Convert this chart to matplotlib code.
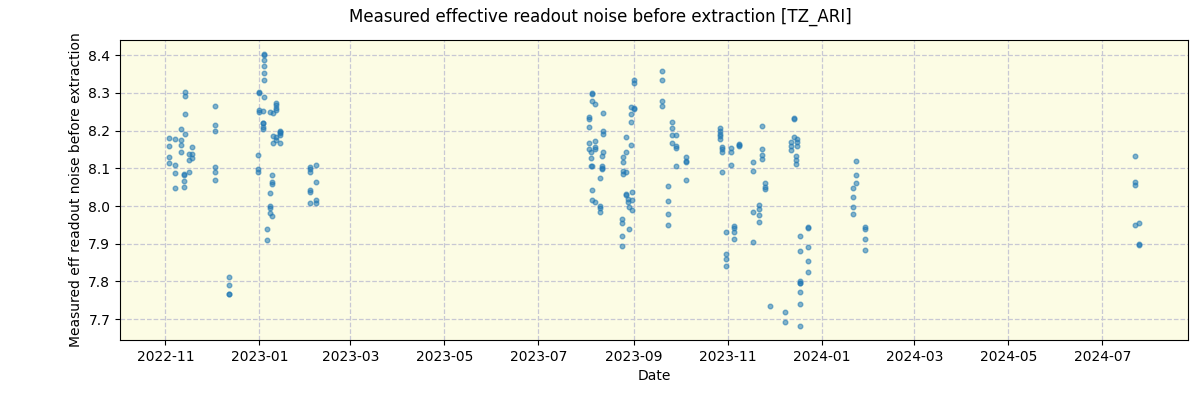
import matplotlib
matplotlib.use("Agg")
import matplotlib.pyplot as plt
import matplotlib.dates as mdates
import pandas as pd

# (date, values) groups
dates = [
    "2022-11-03", "2022-11-03", "2022-11-03", "2022-11-03",
    "2022-11-07", "2022-11-07", "2022-11-07", "2022-11-07",
    "2022-11-11", "2022-11-11", "2022-11-11", "2022-11-11",
    "2022-11-13", "2022-11-13", "2022-11-13", "2022-11-13",
    "2022-11-14", "2022-11-14", "2022-11-14", "2022-11-14",
    "2022-11-16", "2022-11-16", "2022-11-16",
    "2022-11-18", "2022-11-18", "2022-11-18",
    "2022-12-03", "2022-12-03", "2022-12-03", "2022-12-03", "2022-12-03", "2022-12-03",
    "2022-12-12", "2022-12-12", "2022-12-12", "2022-12-12",
    "2022-12-31", "2022-12-31", "2022-12-31",
    "2023-01-01", "2023-01-01", "2023-01-01", "2023-01-01",
    "2023-01-03", "2023-01-03", "2023-01-03", "2023-01-03", "2023-01-03",
    "2023-01-04", "2023-01-04", "2023-01-04", "2023-01-04", "2023-01-04", "2023-01-04", "2023-01-04",
    "2023-01-06", "2023-01-06",
    "2023-01-08", "2023-01-08", "2023-01-08", "2023-01-08", "2023-01-08",
    "2023-01-09", "2023-01-09", "2023-01-09", "2023-01-09",
    "2023-01-10", "2023-01-10", "2023-01-10",
    "2023-01-12", "2023-01-12", "2023-01-12", "2023-01-12", "2023-01-12", "2023-01-12",
    "2023-01-14", "2023-01-14", "2023-01-14", "2023-01-14", "2023-01-14",
    "2023-02-03", "2023-02-03", "2023-02-03", "2023-02-03", "2023-02-03", "2023-02-03",
    "2023-02-07", "2023-02-07", "2023-02-07", "2023-02-07",
    "2023-08-03", "2023-08-03", "2023-08-03", "2023-08-03", "2023-08-03",
    "2023-08-04", "2023-08-04", "2023-08-04",
    "2023-08-05", "2023-08-05", "2023-08-05", "2023-08-05", "2023-08-05", "2023-08-05",
    "2023-08-07", "2023-08-07", "2023-08-07", "2023-08-07", "2023-08-07",
    "2023-08-10", "2023-08-10", "2023-08-10", "2023-08-10",
    "2023-08-11", "2023-08-11", "2023-08-11", "2023-08-11",
    "2023-08-12", "2023-08-12", "2023-08-12", "2023-08-12",
    "2023-08-24", "2023-08-24", "2023-08-24", "2023-08-24",
    "2023-08-25", "2023-08-25", "2023-08-25", "2023-08-25",
    "2023-08-27", "2023-08-27", "2023-08-27", "2023-08-27", "2023-08-27",
    "2023-08-28", "2023-08-28",
    "2023-08-29", "2023-08-29",
    "2023-08-30", "2023-08-30", "2023-08-30", "2023-08-30",
    "2023-08-31", "2023-08-31", "2023-08-31",
    "2023-09-01", "2023-09-01", "2023-09-01", "2023-09-01",
    "2023-09-19", "2023-09-19", "2023-09-19", "2023-09-19",
    "2023-09-23", "2023-09-23", "2023-09-23", "2023-09-23",
    "2023-09-26", "2023-09-26", "2023-09-26", "2023-09-26",
    "2023-09-28", "2023-09-28", "2023-09-28", "2023-09-28",
    "2023-10-05", "2023-10-05", "2023-10-05", "2023-10-05",
    "2023-10-27", "2023-10-27", "2023-10-27", "2023-10-27", "2023-10-27",
    "2023-10-28", "2023-10-28", "2023-10-28", "2023-10-28",
    "2023-10-31", "2023-10-31", "2023-10-31", "2023-10-31",
    "2023-11-03", "2023-11-03", "2023-11-03",
    "2023-11-05", "2023-11-05", "2023-11-05", "2023-11-05",
    "2023-11-08", "2023-11-08", "2023-11-08",
    "2023-11-17", "2023-11-17", "2023-11-17", "2023-11-17",
    "2023-11-21", "2023-11-21", "2023-11-21", "2023-11-21",
    "2023-11-23", "2023-11-23", "2023-11-23", "2023-11-23",
    "2023-11-25", "2023-11-25", "2023-11-25",
    "2023-11-28",
    "2023-12-08", "2023-12-08",
    "2023-12-12", "2023-12-12", "2023-12-12",
    "2023-12-14", "2023-12-14", "2023-12-14",
    "2023-12-15", "2023-12-15", "2023-12-15",
    "2023-12-16", "2023-12-16", "2023-12-16",
    "2023-12-18", "2023-12-18", "2023-12-18", "2023-12-18", "2023-12-18", "2023-12-18", "2023-12-18", "2023-12-18",
    "2023-12-23", "2023-12-23", "2023-12-23", "2023-12-23", "2023-12-23",
    "2024-01-21", "2024-01-21", "2024-01-21", "2024-01-21",
    "2024-01-23", "2024-01-23", "2024-01-23",
    "2024-01-29", "2024-01-29", "2024-01-29", "2024-01-29",
    "2024-07-22", "2024-07-22", "2024-07-22", "2024-07-22",
    "2024-07-25", "2024-07-25", "2024-07-25",
]

noise = [
    8.181, 8.160, 8.131, 8.114,
    8.178, 8.109, 8.088, 8.048,
    8.176, 8.162, 8.144, 8.203,
    8.085, 8.081, 8.066, 8.050,
    8.303, 8.293, 8.245, 8.192,
    8.138, 8.121, 8.090,
    8.157, 8.137, 8.128,
    8.266, 8.216, 8.200, 8.104, 8.090, 8.069,
    7.811, 7.790, 7.768, 7.768,
    8.136, 8.097, 8.089,
    8.302, 8.299, 8.254, 8.250,
    8.253, 8.221, 8.221, 8.210, 8.205,
    8.404, 8.401, 8.386, 8.370, 8.352, 8.333, 8.290,
    7.938, 7.911,
    8.035, 8.001, 7.994, 7.981, 8.250,
    8.082, 8.063, 8.059, 7.973,
    8.185, 8.168, 8.247,
    8.274, 8.267, 8.260, 8.254, 8.184, 8.176,
    8.200, 8.194, 8.187, 8.168, 8.196,
    8.104, 8.097, 8.091, 8.043, 8.037, 8.008,
    8.109, 8.064, 8.017, 8.008,
    8.237, 8.231, 8.210, 8.168, 8.152,
    8.143, 8.128, 8.106,
    8.300, 8.297, 8.278, 8.106, 8.043, 8.016,
    8.011, 8.271, 8.173, 8.157, 8.152,
    8.001, 7.995, 7.985, 8.074,
    8.133, 8.107, 8.100, 8.099,
    8.247, 8.198, 8.191, 8.144,
    7.965, 7.955, 7.920, 7.893,
    8.131, 8.118, 8.094, 8.084,
    8.184, 8.144, 8.089, 8.028, 8.031,
    8.019, 8.011,
    7.997, 7.939,
    8.263, 8.245, 8.224, 8.162,
    8.038, 8.016, 7.989,
    8.335, 8.325, 8.260, 8.258,
    8.357, 8.333, 8.279, 8.266,
    8.053, 8.013, 7.979, 7.949,
    8.224, 8.208, 8.189, 8.168,
    8.189, 8.159, 8.154, 8.106,
    8.130, 8.120, 8.117, 8.069,
    8.208, 8.200, 8.192, 8.185, 8.179,
    8.157, 8.150, 8.144, 8.090,
    7.931, 7.872, 7.859, 7.840,
    8.154, 8.143, 8.109,
    7.948, 7.941, 7.931, 7.912,
    8.165, 8.160, 8.162,
    8.117, 8.093, 7.984, 7.904,
    8.003, 7.992, 7.976, 7.957,
    8.212, 8.151, 8.134, 8.126,
    8.061, 8.051, 8.045,
    7.734,
    7.720, 7.692,
    8.171, 8.160, 8.149,
    8.234, 8.232, 8.184,
    8.133, 8.122, 8.112,
    8.178, 8.171, 8.160,
    7.920, 7.880, 7.800, 7.795, 7.771, 7.739, 7.681, 7.797,
    7.944, 7.891, 7.854, 7.824, 7.941,
    8.048, 8.024, 7.997, 7.979,
    8.120, 8.083, 8.061,
    7.944, 7.939, 7.912, 7.883,
    8.133, 8.064, 8.057, 7.949,
    7.955, 7.900, 7.896,
]

title = "Measured effective readout noise before extraction [TZ_ARI]"
ylabel = "Measured eff readout noise before extraction"
xlabel = "Date"

x = pd.to_datetime(dates)

fig = plt.figure(figsize=(12, 4), dpi=100)
ax = fig.add_subplot(111)
fig.subplots_adjust(left=0.1, right=0.99, top=0.9, bottom=0.15)
ax.set_facecolor("#fcfce4")
ax.scatter(x, noise, s=11, color="C0", alpha=0.55, zorder=3)
ax.grid(True, linestyle="--", color="#c8c8d4", linewidth=0.9)
ax.set_axisbelow(True)
ax.xaxis.set_major_locator(mdates.MonthLocator(bymonth=[1, 3, 5, 7, 9, 11]))
ax.xaxis.set_major_formatter(mdates.DateFormatter("%Y-%m"))
ax.set_xlabel(xlabel)
ax.set_ylabel(ylabel)
fig.suptitle(title, fontsize=12)
fig.savefig("out.png", dpi=100)
